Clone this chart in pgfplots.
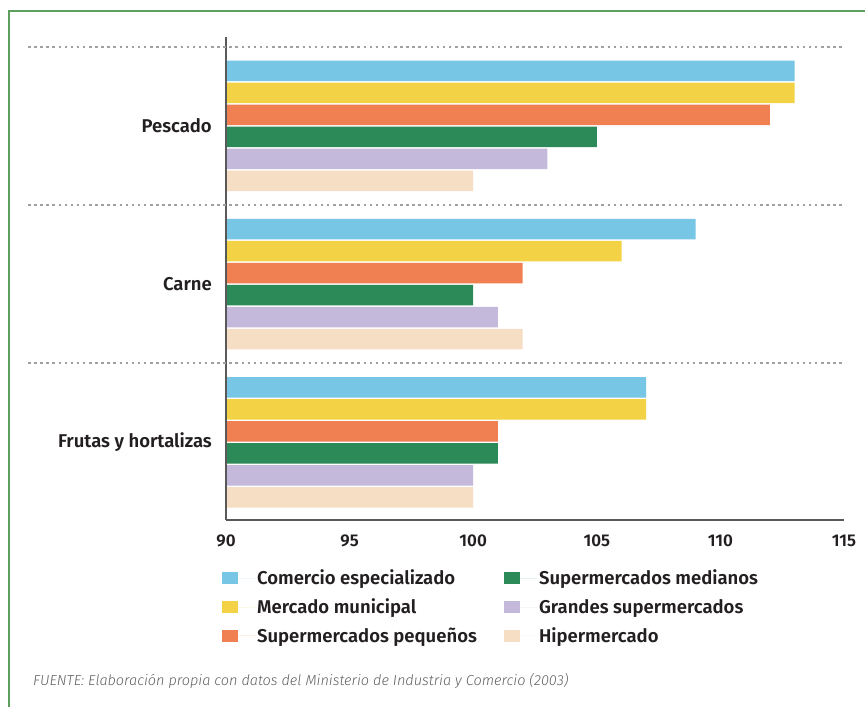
\documentclass[border=0pt]{standalone}
\usepackage{pgfplots}
\pgfplotsset{compat=1.18}
\usepackage{fontspec}
\setmainfont{Fira Sans}[BoldFont={Fira Sans SemiBold}, ItalicFont={Fira Sans Light Italic}]
\definecolor{cBlue}{HTML}{78C6E5}
\definecolor{cYellow}{HTML}{F3D245}
\definecolor{cOrange}{HTML}{F07F51}
\definecolor{cGreen}{HTML}{2B8A58}
\definecolor{cLav}{HTML}{C4B9DB}
\definecolor{cPeach}{HTML}{F5DEC3}
\definecolor{frameg}{HTML}{5E9E5E}
\definecolor{txt}{HTML}{231F20}
\definecolor{dotg}{HTML}{A0A0A0}
\begin{document}
\begin{tikzpicture}
\useasboundingbox (0,0) rectangle (865pt,707pt);
\fill[white] (0,0) rectangle (865pt,707pt);
\draw[frameg, line width=2.2pt] (9pt,0) -- (9pt,696pt) -- (865pt,696pt);
\begin{axis}[
  at={(226pt,187pt)}, anchor=south west,
  width=618pt, height=483pt, scale only axis,
  xmin=90, xmax=115, ymin=-0.49, ymax=2.562,
  axis lines*=left,
  axis line style={draw=black!65, line width=1.3pt},
  axis on top,
  xtick={90,95,...,115}, ytick={0,1,2},
  yticklabels={Frutas y hortalizas, Carne, Pescado},
  major tick length=0pt,
  /pgf/number format/assume math mode=true,
  xticklabel style={font=\fontsize{17}{19}\selectfont\bfseries, text=txt, anchor=base, yshift=-27pt},
  yticklabel style={font=\fontsize{18.5}{20}\selectfont\bfseries, text=txt, anchor=east, inner sep=0pt, xshift=-14pt},
  xbar, bar width=20.5pt,
  legend columns=2,
  legend cell align=left,
  legend style={at={(-0.0115,-0.095)}, anchor=north west, draw=none, fill=none,
    font=\fontsize{18.5}{20}\selectfont\bfseries, text=txt, row sep=8.5pt},
  legend image code/.code={\fill[#1,draw=none] (0pt,-6pt) rectangle (16pt,6pt); \path (0pt,0pt) -- (33pt,0pt);},
]
\addplot[fill=cBlue, draw=none, bar shift=55pt] coordinates {(113,2) (109,1) (107,0)};
\addlegendentry{\makebox[245pt][l]{Comercio especializado}}
\addplot[fill=cGreen, draw=none, bar shift=-11pt] coordinates {(105,2) (100,1) (101,0)};
\addlegendentry{Supermercados medianos}
\addplot[fill=cYellow, draw=none, bar shift=33pt] coordinates {(113,2) (106,1) (107,0)};
\addlegendentry{\makebox[245pt][l]{Mercado municipal}}
\addplot[fill=cLav, draw=none, bar shift=-33pt] coordinates {(103,2) (101,1) (100,0)};
\addlegendentry{Grandes supermercados}
\addplot[fill=cOrange, draw=none, bar shift=11pt] coordinates {(112,2) (102,1) (101,0)};
\addlegendentry{\makebox[245pt][l]{Supermercados pequeños}}
\addplot[fill=cPeach, draw=none, bar shift=-55pt] coordinates {(100,2) (102,1) (100,0)};
\addlegendentry{Hipermercado}
\coordinate (d0) at (axis cs:90,0.5);
\coordinate (d1) at (axis cs:90,1.5);
\coordinate (d2) at (axis cs:90,2.5);
\end{axis}
\foreach \c in {d0,d1,d2}
  \draw[dotg, line width=2pt, dash pattern=on 2.5pt off 3.6pt] ([xshift=-198pt]\c) -- ([xshift=619pt]\c);
\node[anchor=base west, inner sep=0pt, font=\fontsize{14.5}{16}\selectfont\itshape, text=black!62] at (33pt,21pt)
  {FUENTE: Elaboración propia con datos del Ministerio de Industria y Comercio (2003)};
\end{tikzpicture}
\end{document}
